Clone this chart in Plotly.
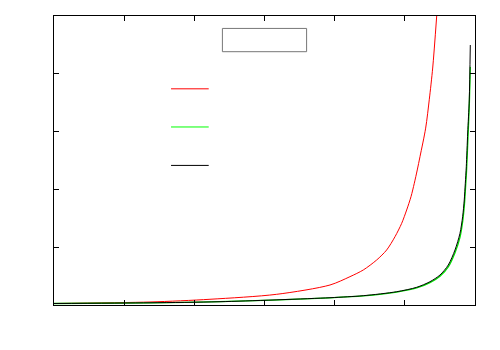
import plotly.graph_objects as go

# values (axes have no labels, units are tick steps)
x_red = [0, 1.368, 2.223, 3.174, 3.933, 4.218, 4.408, 4.599, 4.741, 4.860, 4.955, 5.026,
         5.088, 5.135, 5.177, 5.216, 5.297, 5.349, 5.397, 5.454]
y_red = [0.026, 0.052, 0.099, 0.185, 0.346, 0.490, 0.606, 0.779, 0.952, 1.182, 1.413, 1.644,
         1.874, 2.106, 2.336, 2.566, 3.060, 3.560, 4.100, 5.0]

x_black = [0, 1.368, 2.366, 3.933, 4.408, 4.884, 5.169, 5.358, 5.501, 5.619, 5.715, 5.786,
           5.824, 5.847, 5.862, 5.876, 5.896, 5.918, 5.933]
y_black = [0.026, 0.038, 0.057, 0.126, 0.161, 0.230, 0.306, 0.403, 0.519, 0.692, 0.952, 1.240,
           1.528, 1.817, 2.106, 2.393, 2.976, 3.547, 4.498]

x_green = [0, 1.368, 2.366, 3.933, 4.408, 4.884, 5.169, 5.358, 5.501, 5.619, 5.715, 5.786,
           5.824, 5.850, 5.866, 5.880, 5.900, 5.920, 5.933]
y_green = [0.026, 0.038, 0.057, 0.124, 0.157, 0.224, 0.296, 0.388, 0.498, 0.660, 0.905, 1.170,
           1.440, 1.750, 2.050, 2.330, 2.900, 3.500, 4.120]

x_ticks = [0, 1, 2, 3, 4, 5, 6]
y_ticks = [0, 1, 2, 3, 4, 5]

fig = go.Figure()
fig.add_trace(go.Scatter(x=x_red, y=y_red, mode="lines",
                         line=dict(color="#ff0000", width=1, shape="spline", smoothing=0.8)))
fig.add_trace(go.Scatter(x=x_green, y=y_green, mode="lines",
                         line=dict(color="#00e000", width=1.3, shape="spline", smoothing=0.8)))
fig.add_trace(go.Scatter(x=x_black, y=y_black, mode="lines",
                         line=dict(color="#000000", width=1, shape="spline", smoothing=0.8)))

# empty key box and legend samples, as in the gnuplot picture
fig.add_shape(type="rect", xref="paper", yref="paper", x0=0.4, x1=0.6, y0=0.8765, y1=0.957,
              line=dict(color="#777777", width=1))
for yy, col in [(0.748, "#ff0000"), (0.616, "#00ff00"), (0.483, "#000000")]:
    fig.add_shape(type="line", xref="paper", yref="paper", x0=0.278, x1=0.3675, y0=yy, y1=yy,
                  line=dict(color=col, width=1))

fig.update_xaxes(range=[0, 6], tickvals=x_ticks, showticklabels=False, ticks="inside", ticklen=5,
                 tickcolor="black", showline=True, linecolor="black", linewidth=1, mirror="ticks",
                 showgrid=False, zeroline=False)
fig.update_yaxes(range=[0, 5], tickvals=y_ticks, showticklabels=False, ticks="inside", ticklen=5,
                 tickcolor="black", showline=True, linecolor="black", linewidth=1, mirror="ticks",
                 showgrid=False, zeroline=False)

# the page body adds an 8px offset, so the margins make up for it
fig.update_layout(width=500, height=350, showlegend=False,
                  margin=dict(l=46, r=33, t=8, b=53),
                  plot_bgcolor="white", paper_bgcolor="white")

fig.write_html("out.html")
